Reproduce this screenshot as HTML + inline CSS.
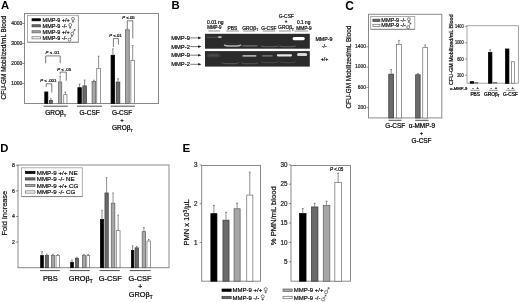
<!DOCTYPE html>
<html><head><meta charset="utf-8"><style>
html,body{margin:0;padding:0;background:#fff;}
body{width:520px;height:302px;overflow:hidden;}
svg{display:block;font-family:"Liberation Sans", sans-serif;filter:blur(0.35px);}

</style></head><body>
<svg width="520" height="302" viewBox="0 0 520 302">
<rect x="0" y="0" width="520" height="302" fill="#fff"/>
<text x="1.00" y="8.70" font-size="11.3" text-anchor="start" font-weight="bold" fill="#000">A</text>
<rect x="24.50" y="13.50" width="134.00" height="90.00" fill="none" stroke="#8a8a8a" stroke-width="1"/>
<line x1="22.30" y1="83.50" x2="24.50" y2="83.50" stroke="#444" stroke-width="0.6"/>
<text x="11.28" y="85.33" font-size="5.4" fill="#222" stroke="#222" stroke-width="0.22" textLength="11.12" lengthAdjust="spacingAndGlyphs">1000</text>
<line x1="22.30" y1="63.50" x2="24.50" y2="63.50" stroke="#444" stroke-width="0.6"/>
<text x="11.28" y="65.33" font-size="5.4" fill="#222" stroke="#222" stroke-width="0.22" textLength="11.12" lengthAdjust="spacingAndGlyphs">2000</text>
<line x1="22.30" y1="43.50" x2="24.50" y2="43.50" stroke="#444" stroke-width="0.6"/>
<text x="11.28" y="45.33" font-size="5.4" fill="#222" stroke="#222" stroke-width="0.22" textLength="11.12" lengthAdjust="spacingAndGlyphs">3000</text>
<line x1="22.30" y1="23.50" x2="24.50" y2="23.50" stroke="#444" stroke-width="0.6"/>
<text x="11.28" y="25.33" font-size="5.4" fill="#222" stroke="#222" stroke-width="0.22" textLength="11.12" lengthAdjust="spacingAndGlyphs">4000</text>
<text x="6.50" y="99.40" font-size="6.45" text-anchor="start" font-weight="normal" fill="#111" stroke="#111" stroke-width="0.22" transform="rotate(-90 6.50 99.40)">CFU-GM Mobilized/mL Blood</text>
<rect x="27.50" y="15.30" width="50.80" height="26.90" fill="#fff" stroke="#9a9a9a" stroke-width="0.8"/>
<line x1="28.00" y1="42.30" x2="78.40" y2="42.30" stroke="#666" stroke-width="0.6"/>
<line x1="78.40" y1="15.80" x2="78.40" y2="42.30" stroke="#888" stroke-width="0.5"/>
<rect x="32.00" y="18.75" width="8.60" height="2.10" fill="#000000" stroke="#000000" stroke-width="0.7"/>
<text x="42.60" y="21.80" font-size="5.5" text-anchor="start" font-weight="normal" fill="#111" stroke="#111" stroke-width="0.22">MMP-9 +/+ </text>
<circle cx="72.99" cy="18.89" r="1.46" fill="none" stroke="#222" stroke-width="0.55"/>
<line x1="72.99" y1="20.34" x2="72.99" y2="22.81" stroke="#222" stroke-width="0.55"/>
<line x1="71.82" y1="21.69" x2="74.15" y2="21.69" stroke="#222" stroke-width="0.55"/>
<rect x="32.00" y="24.75" width="8.60" height="2.10" fill="#6a6a6a" stroke="#3a3a3a" stroke-width="0.7"/>
<text x="42.60" y="27.80" font-size="5.5" text-anchor="start" font-weight="normal" fill="#111" stroke="#111" stroke-width="0.22">MMP-9 -/- </text>
<circle cx="70.23" cy="24.89" r="1.46" fill="none" stroke="#222" stroke-width="0.55"/>
<line x1="70.23" y1="26.34" x2="70.23" y2="28.81" stroke="#222" stroke-width="0.55"/>
<line x1="69.06" y1="27.69" x2="71.39" y2="27.69" stroke="#222" stroke-width="0.55"/>
<rect x="32.00" y="30.75" width="8.60" height="2.10" fill="#a6a6a6" stroke="#5e5e5e" stroke-width="0.7"/>
<text x="42.60" y="33.80" font-size="5.5" text-anchor="start" font-weight="normal" fill="#111" stroke="#111" stroke-width="0.22">MMP-9 +/+ </text>
<circle cx="72.26" cy="33.69" r="1.46" fill="none" stroke="#222" stroke-width="0.55"/>
<line x1="73.06" y1="32.45" x2="74.95" y2="29.47" stroke="#222" stroke-width="0.55"/>
<line x1="73.64" y1="29.68" x2="74.95" y2="29.47" stroke="#222" stroke-width="0.55"/>
<line x1="74.95" y1="29.47" x2="75.10" y2="30.78" stroke="#222" stroke-width="0.55"/>
<rect x="32.00" y="36.75" width="8.60" height="2.10" fill="#ffffff" stroke="#6a6a6a" stroke-width="0.7"/>
<text x="42.60" y="39.80" font-size="5.5" text-anchor="start" font-weight="normal" fill="#111" stroke="#111" stroke-width="0.22">MMP-9 -/- </text>
<circle cx="69.50" cy="39.69" r="1.46" fill="none" stroke="#222" stroke-width="0.55"/>
<line x1="70.30" y1="38.45" x2="72.19" y2="35.47" stroke="#222" stroke-width="0.55"/>
<line x1="70.88" y1="35.68" x2="72.19" y2="35.47" stroke="#222" stroke-width="0.55"/>
<line x1="72.19" y1="35.47" x2="72.34" y2="36.78" stroke="#222" stroke-width="0.55"/>
<rect x="44.75" y="91.95" width="3.10" height="11.55" fill="#000000" stroke="#000000" stroke-width="0.7"/>
<line x1="50.90" y1="98.80" x2="50.90" y2="100.10" stroke="#222" stroke-width="0.5"/>
<line x1="50.10" y1="98.80" x2="51.70" y2="98.80" stroke="#222" stroke-width="0.5"/>
<rect x="49.35" y="100.45" width="3.10" height="3.05" fill="#6a6a6a" stroke="#3a3a3a" stroke-width="0.7"/>
<line x1="60.15" y1="76.20" x2="60.15" y2="81.60" stroke="#222" stroke-width="0.5"/>
<line x1="59.35" y1="76.20" x2="60.95" y2="76.20" stroke="#222" stroke-width="0.5"/>
<rect x="58.55" y="81.95" width="3.20" height="21.55" fill="#a6a6a6" stroke="#5e5e5e" stroke-width="0.7"/>
<line x1="65.35" y1="92.00" x2="65.35" y2="94.30" stroke="#222" stroke-width="0.5"/>
<line x1="64.55" y1="92.00" x2="66.15" y2="92.00" stroke="#222" stroke-width="0.5"/>
<rect x="63.75" y="94.65" width="3.20" height="8.85" fill="#ffffff" stroke="#6a6a6a" stroke-width="0.7"/>
<line x1="79.60" y1="84.10" x2="79.60" y2="87.30" stroke="#222" stroke-width="0.5"/>
<line x1="78.80" y1="84.10" x2="80.40" y2="84.10" stroke="#222" stroke-width="0.5"/>
<rect x="77.85" y="87.65" width="3.50" height="15.85" fill="#000000" stroke="#000000" stroke-width="0.7"/>
<line x1="84.65" y1="80.00" x2="84.65" y2="85.50" stroke="#222" stroke-width="0.5"/>
<line x1="83.85" y1="80.00" x2="85.45" y2="80.00" stroke="#222" stroke-width="0.5"/>
<rect x="82.85" y="85.85" width="3.60" height="17.65" fill="#6a6a6a" stroke="#3a3a3a" stroke-width="0.7"/>
<line x1="93.85" y1="80.20" x2="93.85" y2="81.00" stroke="#222" stroke-width="0.5"/>
<line x1="93.05" y1="80.20" x2="94.65" y2="80.20" stroke="#222" stroke-width="0.5"/>
<rect x="92.05" y="81.35" width="3.60" height="22.15" fill="#a6a6a6" stroke="#5e5e5e" stroke-width="0.7"/>
<line x1="98.60" y1="56.20" x2="98.60" y2="68.00" stroke="#222" stroke-width="0.5"/>
<line x1="97.80" y1="56.20" x2="99.40" y2="56.20" stroke="#222" stroke-width="0.5"/>
<rect x="96.75" y="68.35" width="3.70" height="35.15" fill="#ffffff" stroke="#6a6a6a" stroke-width="0.7"/>
<line x1="112.85" y1="48.90" x2="112.85" y2="54.90" stroke="#222" stroke-width="0.5"/>
<line x1="112.05" y1="48.90" x2="113.65" y2="48.90" stroke="#222" stroke-width="0.5"/>
<rect x="111.05" y="55.25" width="3.60" height="48.25" fill="#000000" stroke="#000000" stroke-width="0.7"/>
<line x1="118.00" y1="78.80" x2="118.00" y2="81.70" stroke="#222" stroke-width="0.5"/>
<line x1="117.20" y1="78.80" x2="118.80" y2="78.80" stroke="#222" stroke-width="0.5"/>
<rect x="116.15" y="82.05" width="3.70" height="21.45" fill="#6a6a6a" stroke="#3a3a3a" stroke-width="0.7"/>
<line x1="127.30" y1="27.80" x2="127.30" y2="29.40" stroke="#222" stroke-width="0.5"/>
<line x1="126.50" y1="27.80" x2="128.10" y2="27.80" stroke="#222" stroke-width="0.5"/>
<rect x="125.35" y="29.75" width="3.90" height="73.75" fill="#a6a6a6" stroke="#5e5e5e" stroke-width="0.7"/>
<line x1="132.70" y1="45.50" x2="132.70" y2="60.00" stroke="#222" stroke-width="0.5"/>
<line x1="131.90" y1="45.50" x2="133.50" y2="45.50" stroke="#222" stroke-width="0.5"/>
<rect x="130.85" y="60.35" width="3.70" height="43.15" fill="#ffffff" stroke="#6a6a6a" stroke-width="0.7"/>
<line x1="43.60" y1="106.20" x2="67.80" y2="106.20" stroke="#222" stroke-width="0.8"/>
<line x1="77.00" y1="106.20" x2="102.20" y2="106.20" stroke="#222" stroke-width="0.8"/>
<line x1="110.80" y1="106.20" x2="134.80" y2="106.20" stroke="#222" stroke-width="0.8"/>
<text x="55.80" y="114.70" font-size="6.5" text-anchor="middle" font-weight="normal" fill="#000" stroke="#000" stroke-width="0.22">GROβ<tspan font-size="4.03" dy="1.95">T</tspan></text>
<text x="89.60" y="114.80" font-size="6.5" text-anchor="middle" font-weight="normal" fill="#000" stroke="#000" stroke-width="0.22">G-CSF</text>
<text x="122.00" y="115.00" font-size="6.5" text-anchor="middle" font-weight="normal" fill="#000" stroke="#000" stroke-width="0.22">G-CSF</text>
<text x="122.00" y="122.20" font-size="6.0" text-anchor="middle" font-weight="normal" fill="#000" stroke="#000" stroke-width="0.22">+</text>
<text x="122.40" y="130.00" font-size="6.5" text-anchor="middle" font-weight="normal" fill="#000" stroke="#000" stroke-width="0.22">GROβ<tspan font-size="4.03" dy="1.95">T</tspan></text>
<text x="45.60" y="54.10" font-size="4.3" text-anchor="start" font-weight="normal" fill="#111" stroke="#111" stroke-width="0.22"><tspan font-style="italic">P</tspan> &lt; .01</text>
<polyline points="45.70,63.20 45.70,55.90 60.20,55.90 60.20,63.20" fill="none" stroke="#222" stroke-width="0.6"/>
<text x="57.30" y="70.70" font-size="4.3" text-anchor="start" font-weight="normal" fill="#111" stroke="#111" stroke-width="0.22"><tspan font-style="italic">P</tspan> &lt; .05</text>
<polyline points="60.20,74.50 60.20,72.10 66.30,72.10 66.30,80.70" fill="none" stroke="#222" stroke-width="0.6"/>
<text x="40.20" y="82.30" font-size="4.3" text-anchor="start" font-weight="normal" fill="#111" stroke="#111" stroke-width="0.22"><tspan font-style="italic">P</tspan> &lt; .001</text>
<polyline points="46.20,87.00 46.20,83.80 51.80,83.80 51.80,92.50" fill="none" stroke="#222" stroke-width="0.6"/>
<text x="109.30" y="36.60" font-size="4.3" text-anchor="start" font-weight="normal" fill="#111" stroke="#111" stroke-width="0.22"><tspan font-style="italic">P</tspan> &lt;.01</text>
<polyline points="113.40,47.00 113.40,38.60 118.40,38.60 118.40,44.60" fill="none" stroke="#222" stroke-width="0.6"/>
<text x="122.20" y="18.90" font-size="4.3" text-anchor="start" font-weight="normal" fill="#111" stroke="#111" stroke-width="0.22"><tspan font-style="italic">P</tspan> &lt;.05</text>
<polyline points="127.30,27.00 127.30,20.80 132.80,20.80 132.80,38.50" fill="none" stroke="#222" stroke-width="0.6"/>
<text x="171.40" y="8.90" font-size="11.3" text-anchor="start" font-weight="bold" fill="#000">B</text>
<text x="171.20" y="39.95" font-size="5.8" text-anchor="start" font-weight="normal" fill="#111" stroke="#111" stroke-width="0.22">MMP-9</text>
<line x1="190.30" y1="37.90" x2="198.80" y2="37.90" stroke="#222" stroke-width="0.6"/>
<polygon points="198.2,36.60 201.4,37.90 198.2,39.20" fill="#111"/>
<text x="171.20" y="48.65" font-size="5.8" text-anchor="start" font-weight="normal" fill="#111" stroke="#111" stroke-width="0.22">MMP-2</text>
<line x1="190.30" y1="46.60" x2="198.80" y2="46.60" stroke="#222" stroke-width="0.6"/>
<polygon points="198.2,45.30 201.4,46.60 198.2,47.90" fill="#111"/>
<text x="171.20" y="57.25" font-size="5.8" text-anchor="start" font-weight="normal" fill="#111" stroke="#111" stroke-width="0.22">MMP-9</text>
<line x1="190.30" y1="55.20" x2="198.80" y2="55.20" stroke="#222" stroke-width="0.6"/>
<polygon points="198.2,53.90 201.4,55.20 198.2,56.50" fill="#111"/>
<text x="171.20" y="66.35" font-size="5.8" text-anchor="start" font-weight="normal" fill="#111" stroke="#111" stroke-width="0.22">MMP-2</text>
<line x1="190.30" y1="64.30" x2="198.80" y2="64.30" stroke="#222" stroke-width="0.6"/>
<polygon points="198.2,63.00 201.4,64.30 198.2,65.60" fill="#111"/>
<defs><filter id="bl" x="-50%" y="-200%" width="200%" height="500%"><feGaussianBlur stdDeviation="0.6"/></filter><filter id="bl2" x="-50%" y="-200%" width="200%" height="500%"><feGaussianBlur stdDeviation="0.9"/></filter></defs>
<rect x="205.00" y="33.80" width="104.80" height="14.90" fill="#2b2b2b"/>
<rect x="205.00" y="51.10" width="104.80" height="15.50" fill="#2b2b2b"/>
<rect x="206.80" y="36.80" width="13.70" height="1.00" rx="0.50" fill="#5a5a5a" opacity="0.9" filter="url(#bl)"/>
<rect x="218.00" y="36.30" width="3.80" height="1.60" rx="0.80" fill="#cfcfcf" opacity="0.9" filter="url(#bl)"/>
<path d="M224.50,45.20 Q225.70,46.00 228.50,46.00 L236.60,46.00 Q239.40,46.00 240.60,45.20" stroke="#b8b8b8" stroke-width="1.5" fill="none" stroke-linecap="round" opacity="1.0" filter="url(#bl)"/>
<path d="M225.50,42.40 Q226.56,43.40 229.03,43.40 L236.07,43.40 Q238.54,43.40 239.60,42.40" stroke="#444" stroke-width="0.6" fill="none" stroke-linecap="round" opacity="0.7" filter="url(#bl)"/>
<rect x="242.20" y="45.20" width="15.40" height="1.20" rx="0.60" fill="#7a7a7a" opacity="0.9" filter="url(#bl)"/>
<path d="M261.40,46.10 Q262.60,46.70 265.40,46.70 L274.00,46.70 Q276.80,46.70 278.00,46.10" stroke="#666" stroke-width="1.1" fill="none" stroke-linecap="round" opacity="0.9" filter="url(#bl)"/>
<path d="M279.90,46.10 Q281.06,46.70 283.77,46.70 L291.52,46.70 Q294.24,46.70 295.40,46.10" stroke="#666" stroke-width="1.1" fill="none" stroke-linecap="round" opacity="0.9" filter="url(#bl)"/>
<rect x="292.60" y="37.00" width="12.20" height="3.20" rx="1.60" fill="#ffffff" opacity="1.0" filter="url(#bl)"/>
<rect x="207.50" y="54.50" width="12.30" height="1.80" rx="0.90" fill="#6e6e6e" opacity="0.9" filter="url(#bl2)"/>
<rect x="242.40" y="55.10" width="14.10" height="1.60" rx="0.80" fill="#b4b4b4" opacity="0.95" filter="url(#bl)"/>
<rect x="262.00" y="55.20" width="10.80" height="1.40" rx="0.70" fill="#8c8c8c" opacity="0.9" filter="url(#bl)"/>
<rect x="276.80" y="54.20" width="15.20" height="2.20" rx="1.10" fill="#e8e8e8" opacity="1.0" filter="url(#bl)"/>
<rect x="297.00" y="52.90" width="10.20" height="3.00" rx="1.50" fill="#e2e2e2" opacity="0.95" filter="url(#bl)"/>
<path d="M222.00,62.60 Q223.20,63.60 226.00,63.60 L234.80,63.60 Q237.60,63.60 238.80,62.60" stroke="#585858" stroke-width="1.1" fill="none" stroke-linecap="round" opacity="0.9" filter="url(#bl)"/>
<path d="M242.00,62.80 Q243.16,63.80 245.88,63.80 L253.62,63.80 Q256.34,63.80 257.50,62.80" stroke="#585858" stroke-width="1.1" fill="none" stroke-linecap="round" opacity="0.9" filter="url(#bl)"/>
<path d="M261.40,61.80 Q262.60,62.60 265.40,62.60 L274.00,62.60 Q276.80,62.60 278.00,61.80" stroke="#4e4e4e" stroke-width="1.0" fill="none" stroke-linecap="round" opacity="0.9" filter="url(#bl)"/>
<path d="M279.90,61.80 Q281.06,62.60 283.77,62.60 L291.52,62.60 Q294.24,62.60 295.40,61.80" stroke="#4e4e4e" stroke-width="1.0" fill="none" stroke-linecap="round" opacity="0.9" filter="url(#bl)"/>
<text x="207.00" y="23.50" font-size="4.9" fill="#111" stroke="#111" stroke-width="0.22" textLength="16.60" lengthAdjust="spacingAndGlyphs">0.01 ng</text>
<text x="207.20" y="28.90" font-size="4.9" fill="#111" stroke="#111" stroke-width="0.22" textLength="14.30" lengthAdjust="spacingAndGlyphs">MMP-9</text>
<text x="232.50" y="29.50" font-size="4.9" text-anchor="middle" font-weight="normal" fill="#111" stroke="#111" stroke-width="0.22">PBS</text>
<text x="250.10" y="29.50" font-size="4.9" text-anchor="middle" font-weight="normal" fill="#111" stroke="#111" stroke-width="0.22">GROβ<tspan font-size="3.04" dy="1.47">T</tspan></text>
<text x="268.80" y="29.60" font-size="4.9" text-anchor="middle" font-weight="normal" fill="#111" stroke="#111" stroke-width="0.22">G-CSF</text>
<text x="286.30" y="17.80" font-size="4.9" text-anchor="middle" font-weight="normal" fill="#111" stroke="#111" stroke-width="0.22">G-CSF</text>
<text x="286.20" y="22.90" font-size="4.6" text-anchor="middle" font-weight="normal" fill="#111" stroke="#111" stroke-width="0.22">+</text>
<text x="286.00" y="29.40" font-size="4.9" text-anchor="middle" font-weight="normal" fill="#111" stroke="#111" stroke-width="0.22">GROβ<tspan font-size="3.04" dy="1.47">T</tspan></text>
<text x="297.00" y="23.80" font-size="4.9" fill="#111" stroke="#111" stroke-width="0.22" textLength="13.30" lengthAdjust="spacingAndGlyphs">0.1 ng</text>
<text x="296.20" y="29.70" font-size="4.9" fill="#111" stroke="#111" stroke-width="0.22" textLength="15.40" lengthAdjust="spacingAndGlyphs">MMP-9</text>
<line x1="208.30" y1="31.00" x2="220.20" y2="31.00" stroke="#666" stroke-width="0.7"/>
<line x1="226.10" y1="31.00" x2="238.90" y2="31.00" stroke="#666" stroke-width="0.7"/>
<line x1="243.20" y1="31.00" x2="255.20" y2="31.00" stroke="#666" stroke-width="0.7"/>
<line x1="262.60" y1="31.00" x2="275.00" y2="31.00" stroke="#666" stroke-width="0.7"/>
<line x1="278.80" y1="31.00" x2="290.80" y2="31.00" stroke="#666" stroke-width="0.7"/>
<line x1="294.50" y1="31.00" x2="308.00" y2="31.00" stroke="#666" stroke-width="0.7"/>
<text x="324.00" y="40.90" font-size="5.3" text-anchor="middle" font-weight="normal" fill="#111" stroke="#111" stroke-width="0.22">MMP-9</text>
<text x="324.20" y="47.50" font-size="5.3" text-anchor="middle" font-weight="normal" fill="#111" stroke="#111" stroke-width="0.22">-/-</text>
<text x="324.50" y="60.70" font-size="5.3" text-anchor="middle" font-weight="normal" fill="#111" stroke="#111" stroke-width="0.22">+/+</text>
<text x="345.20" y="9.90" font-size="12.0" text-anchor="start" font-weight="bold" fill="#000">C</text>
<rect x="368.50" y="14.30" width="73.30" height="103.60" fill="none" stroke="#8a8a8a" stroke-width="1"/>
<line x1="366.30" y1="107.66" x2="368.50" y2="107.66" stroke="#444" stroke-width="0.6"/>
<text x="357.84" y="109.03" font-size="5.5" fill="#222" stroke="#222" stroke-width="0.22" textLength="8.16" lengthAdjust="spacingAndGlyphs">200</text>
<line x1="366.30" y1="87.38" x2="368.50" y2="87.38" stroke="#444" stroke-width="0.6"/>
<text x="357.84" y="88.75" font-size="5.5" fill="#222" stroke="#222" stroke-width="0.22" textLength="8.16" lengthAdjust="spacingAndGlyphs">600</text>
<line x1="366.30" y1="67.10" x2="368.50" y2="67.10" stroke="#444" stroke-width="0.6"/>
<text x="355.12" y="68.47" font-size="5.5" fill="#222" stroke="#222" stroke-width="0.22" textLength="10.88" lengthAdjust="spacingAndGlyphs">1000</text>
<line x1="366.30" y1="46.82" x2="368.50" y2="46.82" stroke="#444" stroke-width="0.6"/>
<text x="355.12" y="48.19" font-size="5.5" fill="#222" stroke="#222" stroke-width="0.22" textLength="10.88" lengthAdjust="spacingAndGlyphs">1400</text>
<text x="351.10" y="108.60" font-size="6.4" text-anchor="start" font-weight="normal" fill="#111" stroke="#111" stroke-width="0.22" transform="rotate(-90 351.10 108.60)">CFU-GM Mobilized/mL Blood</text>
<rect x="370.70" y="16.40" width="44.10" height="12.90" fill="#fff" stroke="#9a9a9a" stroke-width="0.8"/>
<line x1="371.00" y1="29.30" x2="414.80" y2="29.30" stroke="#666" stroke-width="0.6"/>
<rect x="372.90" y="19.20" width="7.00" height="2.20" fill="#6a6a6a" stroke="#3a3a3a" stroke-width="0.7"/>
<rect x="372.90" y="24.30" width="7.00" height="2.20" fill="#ffffff" stroke="#6a6a6a" stroke-width="0.7"/>
<text x="381.30" y="22.10" font-size="5.5" text-anchor="start" font-weight="normal" fill="#111" stroke="#111" stroke-width="0.22">MMP-9 -/- </text>
<text x="381.30" y="27.30" font-size="5.5" text-anchor="start" font-weight="normal" fill="#111" stroke="#111" stroke-width="0.22">MMP-9 -/- </text>
<circle cx="408.93" cy="19.19" r="1.46" fill="none" stroke="#222" stroke-width="0.55"/>
<line x1="408.93" y1="20.64" x2="408.93" y2="23.11" stroke="#222" stroke-width="0.55"/>
<line x1="407.76" y1="21.99" x2="410.09" y2="21.99" stroke="#222" stroke-width="0.55"/>
<circle cx="408.20" cy="27.19" r="1.46" fill="none" stroke="#222" stroke-width="0.55"/>
<line x1="409.00" y1="25.95" x2="410.89" y2="22.97" stroke="#222" stroke-width="0.55"/>
<line x1="409.58" y1="23.18" x2="410.89" y2="22.97" stroke="#222" stroke-width="0.55"/>
<line x1="410.89" y1="22.97" x2="411.04" y2="24.28" stroke="#222" stroke-width="0.55"/>
<line x1="391.20" y1="69.60" x2="391.20" y2="73.80" stroke="#222" stroke-width="0.5"/>
<line x1="390.40" y1="69.60" x2="392.00" y2="69.60" stroke="#222" stroke-width="0.5"/>
<rect x="388.75" y="74.15" width="4.90" height="43.85" fill="#6a6a6a" stroke="#3a3a3a" stroke-width="0.7"/>
<line x1="398.90" y1="40.40" x2="398.90" y2="44.00" stroke="#222" stroke-width="0.5"/>
<line x1="398.10" y1="40.40" x2="399.70" y2="40.40" stroke="#222" stroke-width="0.5"/>
<rect x="396.45" y="44.35" width="4.90" height="73.65" fill="#ffffff" stroke="#6a6a6a" stroke-width="0.7"/>
<line x1="417.90" y1="73.60" x2="417.90" y2="74.40" stroke="#222" stroke-width="0.5"/>
<line x1="417.10" y1="73.60" x2="418.70" y2="73.60" stroke="#222" stroke-width="0.5"/>
<rect x="415.65" y="74.75" width="4.50" height="43.25" fill="#6a6a6a" stroke="#3a3a3a" stroke-width="0.7"/>
<line x1="425.20" y1="44.90" x2="425.20" y2="47.30" stroke="#222" stroke-width="0.5"/>
<line x1="424.40" y1="44.90" x2="426.00" y2="44.90" stroke="#222" stroke-width="0.5"/>
<rect x="422.75" y="47.65" width="4.90" height="70.35" fill="#ffffff" stroke="#6a6a6a" stroke-width="0.7"/>
<line x1="388.50" y1="120.30" x2="401.50" y2="120.30" stroke="#222" stroke-width="0.8"/>
<line x1="415.20" y1="120.30" x2="428.50" y2="120.30" stroke="#222" stroke-width="0.8"/>
<text x="395.20" y="127.90" font-size="6.4" text-anchor="middle" font-weight="normal" fill="#000" stroke="#000" stroke-width="0.22">G-CSF</text>
<text x="421.90" y="127.90" font-size="6.4" text-anchor="middle" font-weight="normal" fill="#000" stroke="#000" stroke-width="0.22">α-MMP-9</text>
<text x="421.50" y="135.00" font-size="6.0" text-anchor="middle" font-weight="normal" fill="#000" stroke="#000" stroke-width="0.22">+</text>
<text x="421.50" y="143.10" font-size="6.4" text-anchor="middle" font-weight="normal" fill="#000" stroke="#000" stroke-width="0.22">G-CSF</text>
<rect x="467.00" y="25.70" width="51.40" height="57.50" fill="none" stroke="#9a9a9a" stroke-width="0.9"/>
<line x1="465.00" y1="75.34" x2="467.00" y2="75.34" stroke="#444" stroke-width="0.5"/>
<text x="457.15" y="76.99" font-size="4.9" fill="#222" stroke="#222" stroke-width="0.22" textLength="6.45" lengthAdjust="spacingAndGlyphs">200</text>
<line x1="465.00" y1="59.02" x2="467.00" y2="59.02" stroke="#444" stroke-width="0.5"/>
<text x="457.15" y="60.67" font-size="4.9" fill="#222" stroke="#222" stroke-width="0.22" textLength="6.45" lengthAdjust="spacingAndGlyphs">600</text>
<line x1="465.00" y1="42.70" x2="467.00" y2="42.70" stroke="#444" stroke-width="0.5"/>
<text x="455.00" y="44.35" font-size="4.9" fill="#222" stroke="#222" stroke-width="0.22" textLength="8.60" lengthAdjust="spacingAndGlyphs">1000</text>
<line x1="465.00" y1="26.38" x2="467.00" y2="26.38" stroke="#444" stroke-width="0.5"/>
<text x="455.00" y="28.03" font-size="4.9" fill="#222" stroke="#222" stroke-width="0.22" textLength="8.60" lengthAdjust="spacingAndGlyphs">1400</text>
<text x="452.60" y="85.00" font-size="5.45" text-anchor="start" font-weight="normal" fill="#111" stroke="#111" stroke-width="0.22" transform="rotate(-90 452.60 85.00)">CFU-GM Mobilized/mL Blood</text>
<rect x="470.15" y="81.65" width="3.60" height="1.55" fill="#000000" stroke="#000000" stroke-width="0.7"/>
<rect x="474.75" y="82.55" width="3.10" height="0.65" fill="#ffffff" stroke="#6a6a6a" stroke-width="0.7"/>
<line x1="490.15" y1="49.80" x2="490.15" y2="52.10" stroke="#222" stroke-width="0.5"/>
<line x1="489.35" y1="49.80" x2="490.95" y2="49.80" stroke="#222" stroke-width="0.5"/>
<rect x="488.35" y="52.45" width="3.60" height="30.75" fill="#000000" stroke="#000000" stroke-width="0.7"/>
<rect x="493.35" y="82.35" width="3.40" height="0.85" fill="#ffffff" stroke="#6a6a6a" stroke-width="0.7"/>
<rect x="505.45" y="48.95" width="3.50" height="34.45" fill="#000000" stroke="#000000" stroke-width="0.7"/>
<rect x="511.35" y="61.75" width="3.20" height="21.45" fill="#ffffff" stroke="#6a6a6a" stroke-width="0.7"/>
<text x="467.30" y="89.60" font-size="4.2" text-anchor="end" font-weight="normal" fill="#111" stroke="#111" stroke-width="0.22">α-MMP-9</text>
<text x="473.00" y="89.40" font-size="4.2" text-anchor="middle" font-weight="normal" fill="#111" stroke="#111" stroke-width="0.22">-</text>
<text x="477.70" y="89.40" font-size="4.2" text-anchor="middle" font-weight="normal" fill="#111" stroke="#111" stroke-width="0.22">+</text>
<text x="491.20" y="89.40" font-size="4.2" text-anchor="middle" font-weight="normal" fill="#111" stroke="#111" stroke-width="0.22">-</text>
<text x="495.90" y="89.40" font-size="4.2" text-anchor="middle" font-weight="normal" fill="#111" stroke="#111" stroke-width="0.22">+</text>
<text x="508.20" y="89.40" font-size="4.2" text-anchor="middle" font-weight="normal" fill="#111" stroke="#111" stroke-width="0.22">-</text>
<text x="512.80" y="89.40" font-size="4.2" text-anchor="middle" font-weight="normal" fill="#111" stroke="#111" stroke-width="0.22">+</text>
<line x1="470.60" y1="90.30" x2="479.70" y2="90.30" stroke="#444" stroke-width="0.6"/>
<line x1="488.80" y1="90.30" x2="498.00" y2="90.30" stroke="#444" stroke-width="0.6"/>
<line x1="505.90" y1="90.30" x2="515.30" y2="90.30" stroke="#444" stroke-width="0.6"/>
<text x="475.20" y="96.00" font-size="4.8" text-anchor="middle" font-weight="normal" fill="#000" stroke="#000" stroke-width="0.22">PBS</text>
<text x="491.80" y="96.00" font-size="4.8" text-anchor="middle" font-weight="normal" fill="#000" stroke="#000" stroke-width="0.22">GROβ<tspan font-size="2.98" dy="1.44">T</tspan></text>
<text x="510.40" y="96.00" font-size="4.8" text-anchor="middle" font-weight="normal" fill="#000" stroke="#000" stroke-width="0.22">G-CSF</text>
<text x="0.30" y="152.20" font-size="11.3" text-anchor="start" font-weight="bold" fill="#000">D</text>
<rect x="18.00" y="165.00" width="151.00" height="102.70" fill="none" stroke="#8a8a8a" stroke-width="1"/>
<line x1="15.80" y1="242.10" x2="18.00" y2="242.10" stroke="#444" stroke-width="0.6"/>
<text x="15.00" y="243.90" font-size="5.2" text-anchor="end" font-weight="normal" fill="#222" stroke="#222" stroke-width="0.22">2</text>
<line x1="15.80" y1="216.50" x2="18.00" y2="216.50" stroke="#444" stroke-width="0.6"/>
<text x="15.00" y="218.30" font-size="5.2" text-anchor="end" font-weight="normal" fill="#222" stroke="#222" stroke-width="0.22">4</text>
<line x1="15.80" y1="190.90" x2="18.00" y2="190.90" stroke="#444" stroke-width="0.6"/>
<text x="15.00" y="192.70" font-size="5.2" text-anchor="end" font-weight="normal" fill="#222" stroke="#222" stroke-width="0.22">6</text>
<line x1="15.80" y1="165.30" x2="18.00" y2="165.30" stroke="#444" stroke-width="0.6"/>
<text x="15.00" y="167.10" font-size="5.2" text-anchor="end" font-weight="normal" fill="#222" stroke="#222" stroke-width="0.22">8</text>
<text x="6.90" y="235.60" font-size="7.4" text-anchor="start" font-weight="normal" fill="#111" stroke="#111" stroke-width="0.22" transform="rotate(-90 6.90 235.60)">Fold Increase</text>
<rect x="21.40" y="167.80" width="60.90" height="28.70" fill="#fff" stroke="#9a9a9a" stroke-width="0.8"/>
<line x1="21.50" y1="196.60" x2="82.30" y2="196.60" stroke="#666" stroke-width="0.6"/>
<rect x="25.40" y="171.30" width="9.60" height="2.20" fill="#000000" stroke="#000000" stroke-width="0.7"/>
<text x="36.80" y="174.60" font-size="6.2" text-anchor="start" font-weight="normal" fill="#111" stroke="#111" stroke-width="0.22">MMP-9 +/+ NE</text>
<rect x="25.40" y="177.83" width="9.60" height="2.20" fill="#6a6a6a" stroke="#3a3a3a" stroke-width="0.7"/>
<text x="36.80" y="181.13" font-size="6.2" text-anchor="start" font-weight="normal" fill="#111" stroke="#111" stroke-width="0.22">MMP-9 -/- NE</text>
<rect x="25.40" y="184.36" width="9.60" height="2.20" fill="#a6a6a6" stroke="#5e5e5e" stroke-width="0.7"/>
<text x="36.80" y="187.66" font-size="6.2" text-anchor="start" font-weight="normal" fill="#111" stroke="#111" stroke-width="0.22">MMP-9 +/+ CG</text>
<rect x="25.40" y="190.89" width="9.60" height="2.20" fill="#ffffff" stroke="#6a6a6a" stroke-width="0.7"/>
<text x="36.80" y="194.19" font-size="6.2" text-anchor="start" font-weight="normal" fill="#111" stroke="#111" stroke-width="0.22">MMP-9 -/- CG</text>
<line x1="42.00" y1="251.60" x2="42.00" y2="255.20" stroke="#222" stroke-width="0.5"/>
<line x1="41.30" y1="251.60" x2="42.70" y2="251.60" stroke="#222" stroke-width="0.5"/>
<rect x="40.65" y="255.55" width="2.70" height="12.15" fill="#000000" stroke="#000000" stroke-width="0.7"/>
<line x1="46.80" y1="254.00" x2="46.80" y2="255.20" stroke="#222" stroke-width="0.5"/>
<line x1="46.10" y1="254.00" x2="47.50" y2="254.00" stroke="#222" stroke-width="0.5"/>
<rect x="45.25" y="255.55" width="3.10" height="12.15" fill="#6a6a6a" stroke="#3a3a3a" stroke-width="0.7"/>
<line x1="52.95" y1="254.20" x2="52.95" y2="255.00" stroke="#222" stroke-width="0.5"/>
<line x1="52.25" y1="254.20" x2="53.65" y2="254.20" stroke="#222" stroke-width="0.5"/>
<rect x="51.35" y="255.35" width="3.20" height="12.35" fill="#a6a6a6" stroke="#5e5e5e" stroke-width="0.7"/>
<line x1="57.70" y1="254.50" x2="57.70" y2="255.00" stroke="#222" stroke-width="0.5"/>
<line x1="57.00" y1="254.50" x2="58.40" y2="254.50" stroke="#222" stroke-width="0.5"/>
<rect x="56.05" y="255.35" width="3.30" height="12.35" fill="#ffffff" stroke="#6a6a6a" stroke-width="0.7"/>
<line x1="72.00" y1="260.00" x2="72.00" y2="261.90" stroke="#222" stroke-width="0.5"/>
<line x1="71.30" y1="260.00" x2="72.70" y2="260.00" stroke="#222" stroke-width="0.5"/>
<rect x="70.65" y="262.25" width="2.70" height="5.45" fill="#000000" stroke="#000000" stroke-width="0.7"/>
<line x1="76.95" y1="257.20" x2="76.95" y2="258.00" stroke="#222" stroke-width="0.5"/>
<line x1="76.25" y1="257.20" x2="77.65" y2="257.20" stroke="#222" stroke-width="0.5"/>
<rect x="75.55" y="258.35" width="2.80" height="9.35" fill="#6a6a6a" stroke="#3a3a3a" stroke-width="0.7"/>
<line x1="83.85" y1="254.50" x2="83.85" y2="255.20" stroke="#222" stroke-width="0.5"/>
<line x1="83.15" y1="254.50" x2="84.55" y2="254.50" stroke="#222" stroke-width="0.5"/>
<rect x="82.35" y="255.55" width="3.00" height="12.15" fill="#a6a6a6" stroke="#5e5e5e" stroke-width="0.7"/>
<line x1="88.20" y1="254.50" x2="88.20" y2="255.00" stroke="#222" stroke-width="0.5"/>
<line x1="87.50" y1="254.50" x2="88.90" y2="254.50" stroke="#222" stroke-width="0.5"/>
<rect x="86.75" y="255.35" width="2.90" height="12.35" fill="#ffffff" stroke="#6a6a6a" stroke-width="0.7"/>
<line x1="102.00" y1="210.30" x2="102.00" y2="219.20" stroke="#222" stroke-width="0.5"/>
<line x1="101.30" y1="210.30" x2="102.70" y2="210.30" stroke="#222" stroke-width="0.5"/>
<rect x="100.35" y="219.55" width="3.30" height="48.15" fill="#000000" stroke="#000000" stroke-width="0.7"/>
<line x1="106.60" y1="177.60" x2="106.60" y2="192.60" stroke="#222" stroke-width="0.5"/>
<line x1="105.90" y1="177.60" x2="107.30" y2="177.60" stroke="#222" stroke-width="0.5"/>
<rect x="104.95" y="192.95" width="3.30" height="74.75" fill="#6a6a6a" stroke="#3a3a3a" stroke-width="0.7"/>
<line x1="113.05" y1="192.90" x2="113.05" y2="202.80" stroke="#222" stroke-width="0.5"/>
<line x1="112.35" y1="192.90" x2="113.75" y2="192.90" stroke="#222" stroke-width="0.5"/>
<rect x="111.25" y="203.15" width="3.60" height="64.55" fill="#a6a6a6" stroke="#5e5e5e" stroke-width="0.7"/>
<line x1="118.15" y1="215.20" x2="118.15" y2="230.30" stroke="#222" stroke-width="0.5"/>
<line x1="117.45" y1="215.20" x2="118.85" y2="215.20" stroke="#222" stroke-width="0.5"/>
<rect x="116.25" y="230.65" width="3.80" height="37.05" fill="#ffffff" stroke="#6a6a6a" stroke-width="0.7"/>
<line x1="132.60" y1="245.70" x2="132.60" y2="250.00" stroke="#222" stroke-width="0.5"/>
<line x1="131.90" y1="245.70" x2="133.30" y2="245.70" stroke="#222" stroke-width="0.5"/>
<rect x="131.35" y="250.35" width="2.50" height="17.35" fill="#000000" stroke="#000000" stroke-width="0.7"/>
<line x1="136.75" y1="246.50" x2="136.75" y2="247.50" stroke="#222" stroke-width="0.5"/>
<line x1="136.05" y1="246.50" x2="137.45" y2="246.50" stroke="#222" stroke-width="0.5"/>
<rect x="135.05" y="247.85" width="3.40" height="19.85" fill="#6a6a6a" stroke="#3a3a3a" stroke-width="0.7"/>
<line x1="143.90" y1="227.50" x2="143.90" y2="231.30" stroke="#222" stroke-width="0.5"/>
<line x1="143.20" y1="227.50" x2="144.60" y2="227.50" stroke="#222" stroke-width="0.5"/>
<rect x="142.15" y="231.65" width="3.50" height="36.05" fill="#a6a6a6" stroke="#5e5e5e" stroke-width="0.7"/>
<line x1="148.70" y1="239.50" x2="148.70" y2="240.70" stroke="#222" stroke-width="0.5"/>
<line x1="148.00" y1="239.50" x2="149.40" y2="239.50" stroke="#222" stroke-width="0.5"/>
<rect x="146.95" y="241.05" width="3.50" height="26.65" fill="#ffffff" stroke="#6a6a6a" stroke-width="0.7"/>
<line x1="40.00" y1="270.60" x2="59.80" y2="270.60" stroke="#222" stroke-width="0.8"/>
<line x1="70.00" y1="270.60" x2="89.80" y2="270.60" stroke="#222" stroke-width="0.8"/>
<line x1="99.60" y1="270.60" x2="119.80" y2="270.60" stroke="#222" stroke-width="0.8"/>
<line x1="129.80" y1="270.60" x2="150.60" y2="270.60" stroke="#222" stroke-width="0.8"/>
<text x="50.30" y="280.60" font-size="7.4" text-anchor="middle" font-weight="normal" fill="#000" stroke="#000" stroke-width="0.22">PBS</text>
<text x="80.60" y="280.60" font-size="7.4" text-anchor="middle" font-weight="normal" fill="#000" stroke="#000" stroke-width="0.22">GROβ<tspan font-size="4.59" dy="2.22">T</tspan></text>
<text x="110.30" y="281.00" font-size="7.4" text-anchor="middle" font-weight="normal" fill="#000" stroke="#000" stroke-width="0.22">G-CSF</text>
<text x="140.00" y="281.00" font-size="7.4" text-anchor="middle" font-weight="normal" fill="#000" stroke="#000" stroke-width="0.22">G-CSF</text>
<text x="140.20" y="289.20" font-size="6.6" text-anchor="middle" font-weight="normal" fill="#000" stroke="#000" stroke-width="0.22">+</text>
<text x="140.60" y="297.20" font-size="7.4" text-anchor="middle" font-weight="normal" fill="#000" stroke="#000" stroke-width="0.22">GROβ<tspan font-size="4.59" dy="2.22">T</tspan></text>
<text x="182.60" y="152.40" font-size="11.6" text-anchor="start" font-weight="bold" fill="#000">E</text>
<rect x="201.70" y="165.50" width="58.80" height="115.70" fill="none" stroke="#8a8a8a" stroke-width="1"/>
<line x1="199.60" y1="242.45" x2="201.70" y2="242.45" stroke="#444" stroke-width="0.6"/>
<text x="197.60" y="244.65" font-size="6.3" text-anchor="end" font-weight="normal" fill="#222" stroke="#222" stroke-width="0.22">1</text>
<line x1="199.60" y1="203.70" x2="201.70" y2="203.70" stroke="#444" stroke-width="0.6"/>
<text x="197.60" y="205.90" font-size="6.3" text-anchor="end" font-weight="normal" fill="#222" stroke="#222" stroke-width="0.22">2</text>
<line x1="199.60" y1="164.95" x2="201.70" y2="164.95" stroke="#444" stroke-width="0.6"/>
<text x="197.60" y="167.15" font-size="6.3" text-anchor="end" font-weight="normal" fill="#222" stroke="#222" stroke-width="0.22">3</text>
<text x="189.30" y="245.40" font-size="7.5" text-anchor="start" font-weight="normal" fill="#111" stroke="#111" stroke-width="0.22" transform="rotate(-90 189.30 245.40)">PMN x 10<tspan font-size="4.8" dy="-2.7">3</tspan><tspan dy="2.7">/µL</tspan></text>
<line x1="213.90" y1="205.40" x2="213.90" y2="213.30" stroke="#222" stroke-width="0.5"/>
<line x1="212.90" y1="205.40" x2="214.90" y2="205.40" stroke="#222" stroke-width="0.5"/>
<rect x="210.85" y="213.65" width="6.10" height="67.55" fill="#000000" stroke="#000000" stroke-width="0.7"/>
<line x1="226.00" y1="212.30" x2="226.00" y2="219.80" stroke="#222" stroke-width="0.5"/>
<line x1="225.00" y1="212.30" x2="227.00" y2="212.30" stroke="#222" stroke-width="0.5"/>
<rect x="222.95" y="220.15" width="6.10" height="61.05" fill="#6a6a6a" stroke="#3a3a3a" stroke-width="0.7"/>
<line x1="237.10" y1="203.20" x2="237.10" y2="208.40" stroke="#222" stroke-width="0.5"/>
<line x1="236.10" y1="203.20" x2="238.10" y2="203.20" stroke="#222" stroke-width="0.5"/>
<rect x="234.05" y="208.75" width="6.10" height="72.45" fill="#a6a6a6" stroke="#5e5e5e" stroke-width="0.7"/>
<line x1="249.80" y1="172.20" x2="249.80" y2="194.70" stroke="#222" stroke-width="0.5"/>
<line x1="248.80" y1="172.20" x2="250.80" y2="172.20" stroke="#222" stroke-width="0.5"/>
<rect x="246.75" y="195.05" width="6.10" height="86.15" fill="#ffffff" stroke="#6a6a6a" stroke-width="0.7"/>
<rect x="291.00" y="165.50" width="59.50" height="115.70" fill="none" stroke="#8a8a8a" stroke-width="1"/>
<line x1="288.90" y1="261.80" x2="291.00" y2="261.80" stroke="#444" stroke-width="0.6"/>
<text x="287.60" y="264.00" font-size="6.3" text-anchor="end" font-weight="normal" fill="#222" stroke="#222" stroke-width="0.22">5</text>
<line x1="288.90" y1="242.40" x2="291.00" y2="242.40" stroke="#444" stroke-width="0.6"/>
<text x="287.60" y="244.60" font-size="6.3" text-anchor="end" font-weight="normal" fill="#222" stroke="#222" stroke-width="0.22">10</text>
<line x1="288.90" y1="223.00" x2="291.00" y2="223.00" stroke="#444" stroke-width="0.6"/>
<text x="287.60" y="225.20" font-size="6.3" text-anchor="end" font-weight="normal" fill="#222" stroke="#222" stroke-width="0.22">15</text>
<line x1="288.90" y1="203.60" x2="291.00" y2="203.60" stroke="#444" stroke-width="0.6"/>
<text x="287.60" y="205.80" font-size="6.3" text-anchor="end" font-weight="normal" fill="#222" stroke="#222" stroke-width="0.22">20</text>
<line x1="288.90" y1="184.20" x2="291.00" y2="184.20" stroke="#444" stroke-width="0.6"/>
<text x="287.60" y="186.40" font-size="6.3" text-anchor="end" font-weight="normal" fill="#222" stroke="#222" stroke-width="0.22">25</text>
<line x1="288.90" y1="164.80" x2="291.00" y2="164.80" stroke="#444" stroke-width="0.6"/>
<text x="287.60" y="167.00" font-size="6.3" text-anchor="end" font-weight="normal" fill="#222" stroke="#222" stroke-width="0.22">30</text>
<text x="276.00" y="245.20" font-size="7.6" text-anchor="start" font-weight="normal" fill="#111" stroke="#111" stroke-width="0.22" transform="rotate(-90 276.00 245.20)">% PMN/mL blood</text>
<line x1="302.75" y1="208.60" x2="302.75" y2="213.10" stroke="#222" stroke-width="0.5"/>
<line x1="301.75" y1="208.60" x2="303.75" y2="208.60" stroke="#222" stroke-width="0.5"/>
<rect x="299.45" y="213.45" width="6.60" height="67.75" fill="#000000" stroke="#000000" stroke-width="0.7"/>
<line x1="314.65" y1="203.30" x2="314.65" y2="206.60" stroke="#222" stroke-width="0.5"/>
<line x1="313.65" y1="203.30" x2="315.65" y2="203.30" stroke="#222" stroke-width="0.5"/>
<rect x="311.35" y="206.95" width="6.60" height="74.25" fill="#6a6a6a" stroke="#3a3a3a" stroke-width="0.7"/>
<line x1="326.55" y1="201.20" x2="326.55" y2="205.10" stroke="#222" stroke-width="0.5"/>
<line x1="325.55" y1="201.20" x2="327.55" y2="201.20" stroke="#222" stroke-width="0.5"/>
<rect x="323.25" y="205.45" width="6.60" height="75.75" fill="#a6a6a6" stroke="#5e5e5e" stroke-width="0.7"/>
<line x1="338.15" y1="173.20" x2="338.15" y2="182.20" stroke="#222" stroke-width="0.5"/>
<line x1="337.15" y1="173.20" x2="339.15" y2="173.20" stroke="#222" stroke-width="0.5"/>
<rect x="334.85" y="182.55" width="6.60" height="98.65" fill="#ffffff" stroke="#6a6a6a" stroke-width="0.7"/>
<text x="329.90" y="171.20" font-size="4.6" text-anchor="start" font-weight="normal" fill="#111" stroke="#111" stroke-width="0.22"><tspan font-style="italic">P</tspan> &lt;.05</text>
<rect x="222.00" y="289.00" width="9.20" height="2.40" fill="#000000" stroke="#000000" stroke-width="0.7"/>
<text x="232.60" y="292.30" font-size="6.0" text-anchor="start" font-weight="normal" fill="#111" stroke="#111" stroke-width="0.22">MMP-9 +/+ </text>
<circle cx="265.70" cy="289.18" r="1.56" fill="none" stroke="#222" stroke-width="0.55"/>
<line x1="265.70" y1="290.74" x2="265.70" y2="293.38" stroke="#222" stroke-width="0.55"/>
<line x1="264.45" y1="292.18" x2="266.95" y2="292.18" stroke="#222" stroke-width="0.55"/>
<rect x="222.00" y="296.30" width="9.20" height="2.40" fill="#6a6a6a" stroke="#3a3a3a" stroke-width="0.7"/>
<text x="232.60" y="299.60" font-size="6.0" text-anchor="start" font-weight="normal" fill="#111" stroke="#111" stroke-width="0.22">MMP-9 -/- </text>
<circle cx="262.69" cy="296.48" r="1.56" fill="none" stroke="#222" stroke-width="0.55"/>
<line x1="262.69" y1="298.04" x2="262.69" y2="300.68" stroke="#222" stroke-width="0.55"/>
<line x1="261.44" y1="299.48" x2="263.94" y2="299.48" stroke="#222" stroke-width="0.55"/>
<rect x="283.00" y="289.00" width="9.20" height="2.40" fill="#a6a6a6" stroke="#5e5e5e" stroke-width="0.7"/>
<text x="293.80" y="292.30" font-size="6.0" text-anchor="start" font-weight="normal" fill="#111" stroke="#111" stroke-width="0.22">MMP-9 +/+ </text>
<circle cx="326.12" cy="292.18" r="1.56" fill="none" stroke="#222" stroke-width="0.55"/>
<line x1="326.98" y1="290.85" x2="329.01" y2="287.66" stroke="#222" stroke-width="0.55"/>
<line x1="327.60" y1="287.89" x2="329.01" y2="287.66" stroke="#222" stroke-width="0.55"/>
<line x1="329.01" y1="287.66" x2="329.16" y2="289.06" stroke="#222" stroke-width="0.55"/>
<rect x="283.00" y="296.30" width="9.20" height="2.40" fill="#ffffff" stroke="#6a6a6a" stroke-width="0.7"/>
<text x="293.80" y="299.60" font-size="6.0" text-anchor="start" font-weight="normal" fill="#111" stroke="#111" stroke-width="0.22">MMP-9 -/- </text>
<circle cx="323.11" cy="299.48" r="1.56" fill="none" stroke="#222" stroke-width="0.55"/>
<line x1="323.97" y1="298.15" x2="326.00" y2="294.96" stroke="#222" stroke-width="0.55"/>
<line x1="324.59" y1="295.19" x2="326.00" y2="294.96" stroke="#222" stroke-width="0.55"/>
<line x1="326.00" y1="294.96" x2="326.15" y2="296.36" stroke="#222" stroke-width="0.55"/>
</svg>
</body></html>
